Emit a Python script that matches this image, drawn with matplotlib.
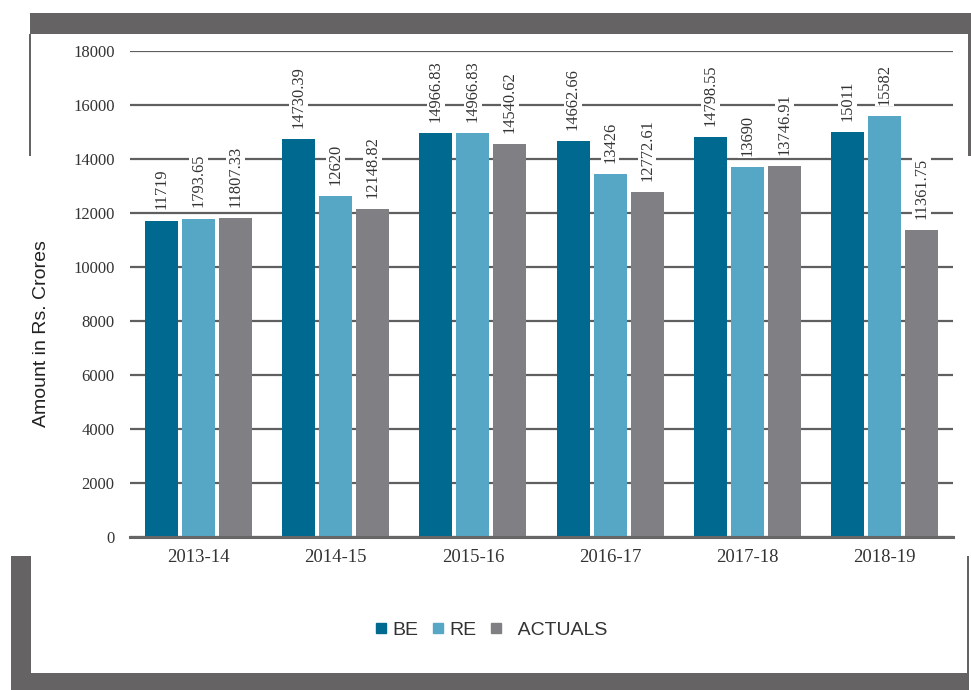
import matplotlib
matplotlib.use("Agg")
import matplotlib.pyplot as plt
import numpy as np
from matplotlib.patches import Rectangle
from matplotlib.lines import Line2D

years = ["2013-14", "2014-15", "2015-16", "2016-17", "2017-18", "2018-19"]
be = [11719, 14730.39, 14966.83, 14662.66, 14798.55, 15011]
re = [11793.65, 12620, 14966.83, 13426, 13690, 15582]
actuals = [11807.33, 12148.82, 14540.62, 12772.61, 13746.91, 11361.75]
be_txt = ["11719", "14730.39", "14966.83", "14662.66", "14798.55", "15011"]
re_txt = ["1793.65", "12620", "14966.83", "13426", "13690", "15582"]
act_txt = ["11807.33", "12148.82", "14540.62", "12772.61", "13746.91", "11361.75"]

C_BE, C_RE, C_ACT = "#006990", "#56a6c6", "#808084"
FRAME = "#656364"
W, H = 971, 690

fig = plt.figure(figsize=(W / 100, H / 100), dpi=100)


def frect(x0, y0, x1, y1):
    # rectangle in pixel coords (top-left origin)
    fig.patches.append(Rectangle((x0 / W, 1 - y1 / H), (x1 - x0) / W, (y1 - y0) / H,
                                 transform=fig.transFigure, color=FRAME, lw=0, zorder=0))


# decorative frame
frect(29.5, 13, 971, 34)
frect(29, 34, 31, 156)
frect(968, 34, 971, 156)
frect(11, 556, 31, 690)
frect(11, 673, 969, 690)
frect(967, 556, 969, 673)

ax = fig.add_axes([130 / W, 1 - 537 / H, (953 - 130) / W, (537 - 51) / H])
x = np.arange(len(years))
bw = 33 / 137
off = 37 / 137
for vals, txts, col, dx in [(be, be_txt, C_BE, -off), (re, re_txt, C_RE, 0), (actuals, act_txt, C_ACT, off)]:
    ax.bar(x + dx, vals, width=bw, color=col, zorder=3)
    for xi, v, t in zip(x + dx, vals, txts):
        ax.annotate(t, (xi, v), xytext=(0, 8), textcoords="offset points", rotation=90,
                    ha="center", va="bottom", fontsize=11.8, family="Liberation Serif", color="#333333",
                    bbox=dict(facecolor="white", edgecolor="none", pad=1), zorder=4)

ax.set_xlim(-0.5, 5.5)
ax.set_ylim(0, 18000)
ax.set_yticks(np.arange(0, 18001, 2000))
ax.set_xticks(x)
ax.set_xticklabels(years, family="Liberation Serif", fontsize=13.5, color="#333333")
for t in ax.get_yticklabels():
    t.set_family("Liberation Serif"); t.set_fontsize(12); t.set_color("#333333")
ax.tick_params(length=0, axis="y", pad=11)
ax.tick_params(length=0, axis="x", pad=9)
ax.grid(axis="y", color="#5f5f5f", lw=1.6, zorder=1)
for s in ["top", "right", "left"]:
    ax.spines[s].set_visible(False)
ax.spines["bottom"].set_color("#666666")
ax.spines["bottom"].set_linewidth(2.2)
ax.spines["bottom"].set_zorder(5)
ax.set_ylabel("Amount in Rs. Crores", family="Liberation Sans", fontsize=14, color="#222222")
ax.yaxis.set_label_coords(-0.097, 0.418)

handles = [Line2D([], [], marker="s", ls="", color=c, markersize=7) for c in (C_BE, C_RE, C_ACT)]
fig.legend(handles, ["BE", "RE", "  ACTUALS"], loc="center", bbox_to_anchor=(490 / W, 1 - 630 / H),
           ncol=3, frameon=False, prop={"family": "Liberation Sans", "size": 14},
           handletextpad=0.2, columnspacing=0.6, handlelength=0.8, labelcolor="#333333")

fig.savefig("out.png", dpi=100)
